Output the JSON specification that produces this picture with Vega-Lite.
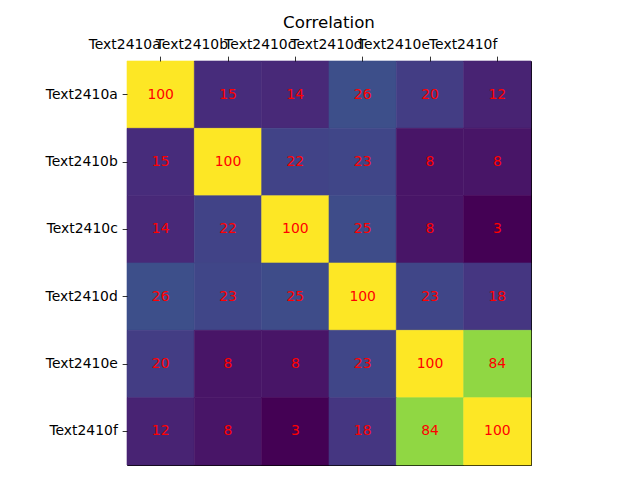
{
  "$schema": "https://vega.github.io/schema/vega-lite/v6.json",
  "autosize": {"type": "none"},
  "padding": {"left": 127, "top": 61, "right": 109, "bottom": 15},
  "width": 404,
  "height": 404,
  "background": "white",
  "title": {"text": "Correlation", "font": "DejaVu Sans", "fontSize": 16.67, "fontWeight": "normal", "color": "black", "offset": 6},
  "data": {"values": [
    {"row": "Text2410a", "col": "Text2410a", "v": 100}, {"row": "Text2410a", "col": "Text2410b", "v": 15}, {"row": "Text2410a", "col": "Text2410c", "v": 14}, {"row": "Text2410a", "col": "Text2410d", "v": 26}, {"row": "Text2410a", "col": "Text2410e", "v": 20}, {"row": "Text2410a", "col": "Text2410f", "v": 12},
    {"row": "Text2410b", "col": "Text2410a", "v": 15}, {"row": "Text2410b", "col": "Text2410b", "v": 100}, {"row": "Text2410b", "col": "Text2410c", "v": 22}, {"row": "Text2410b", "col": "Text2410d", "v": 23}, {"row": "Text2410b", "col": "Text2410e", "v": 8}, {"row": "Text2410b", "col": "Text2410f", "v": 8},
    {"row": "Text2410c", "col": "Text2410a", "v": 14}, {"row": "Text2410c", "col": "Text2410b", "v": 22}, {"row": "Text2410c", "col": "Text2410c", "v": 100}, {"row": "Text2410c", "col": "Text2410d", "v": 25}, {"row": "Text2410c", "col": "Text2410e", "v": 8}, {"row": "Text2410c", "col": "Text2410f", "v": 3},
    {"row": "Text2410d", "col": "Text2410a", "v": 26}, {"row": "Text2410d", "col": "Text2410b", "v": 23}, {"row": "Text2410d", "col": "Text2410c", "v": 25}, {"row": "Text2410d", "col": "Text2410d", "v": 100}, {"row": "Text2410d", "col": "Text2410e", "v": 23}, {"row": "Text2410d", "col": "Text2410f", "v": 18},
    {"row": "Text2410e", "col": "Text2410a", "v": 20}, {"row": "Text2410e", "col": "Text2410b", "v": 8}, {"row": "Text2410e", "col": "Text2410c", "v": 8}, {"row": "Text2410e", "col": "Text2410d", "v": 23}, {"row": "Text2410e", "col": "Text2410e", "v": 100}, {"row": "Text2410e", "col": "Text2410f", "v": 84},
    {"row": "Text2410f", "col": "Text2410a", "v": 12}, {"row": "Text2410f", "col": "Text2410b", "v": 8}, {"row": "Text2410f", "col": "Text2410c", "v": 3}, {"row": "Text2410f", "col": "Text2410d", "v": 18}, {"row": "Text2410f", "col": "Text2410e", "v": 84}, {"row": "Text2410f", "col": "Text2410f", "v": 100}
  ]},
  "encoding": {
    "x": {"field": "col", "type": "nominal", "sort": null, "title": null,
      "scale": {"paddingInner": 0, "paddingOuter": 0},
      "axis": {"orient": "top", "labelAngle": 0, "labelAlign": "right", "domain": false, "ticks": true, "tickSize": 4.86, "tickWidth": 0.8, "tickColor": "black", "labelPadding": 4.86, "labelFont": "DejaVu Sans", "labelFontSize": 13.9, "labelColor": "black", "labelOverlap": false, "labelBound": false, "labelFlush": false, "grid": false}},
    "y": {"field": "row", "type": "nominal", "sort": null, "title": null,
      "scale": {"paddingInner": 0, "paddingOuter": 0},
      "axis": {"domain": false, "ticks": true, "tickSize": 4.86, "tickWidth": 0.8, "tickColor": "black", "labelPadding": 4.86, "labelFont": "DejaVu Sans", "labelFontSize": 13.9, "labelColor": "black", "labelOverlap": false, "grid": false}}
  },
  "layer": [
    {"mark": {"type": "rect", "strokeWidth": 0.6},
     "encoding": {
       "color": {"field": "v", "type": "quantitative", "scale": {"scheme": "viridis", "domain": [3, 100]}, "legend": null},
       "stroke": {"field": "v", "type": "quantitative", "scale": {"scheme": "viridis", "domain": [3, 100]}, "legend": null}}},
    {"mark": {"type": "text", "color": "red", "font": "DejaVu Sans", "fontSize": 13.9},
     "encoding": {"text": {"field": "v", "type": "quantitative"}}}
  ],
  "config": {"view": {"stroke": "black", "strokeWidth": 1}}
}
